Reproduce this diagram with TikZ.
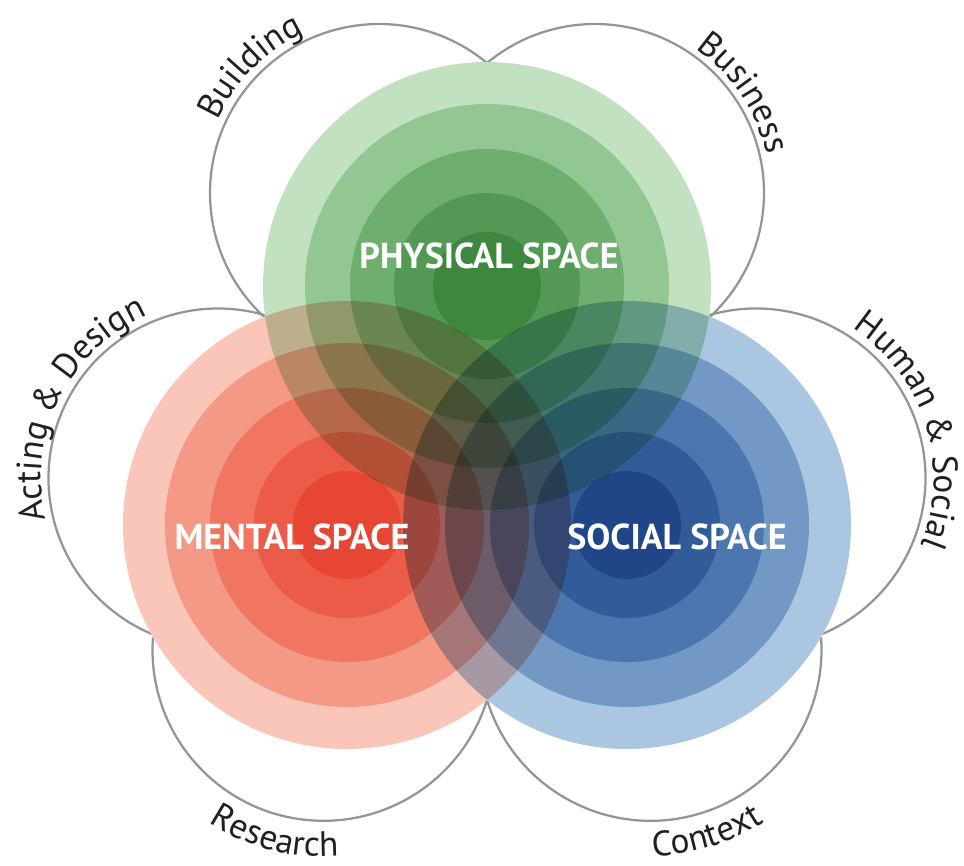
\documentclass[tikz,border=0pt]{standalone}
\usepackage{fontspec}
\setmainfont{PT Sans}
\usetikzlibrary{decorations.text}
\definecolor{gbase}{HTML}{C1E1C1}
\definecolor{rbase}{HTML}{FAC6BA}
\definecolor{bbase}{HTML}{ABC6E1}
\definecolor{outl}{HTML}{939598}
\definecolor{lbl}{HTML}{231F20}
\newcommand\lblfont{\fontsize{26.5}{30}\selectfont}
\newcommand\ttlfont{\fontsize{27}{32}\selectfont\bfseries}
\tikzset{
  petal/.style={draw=outl, line width=1.7pt},
  ttl/.style={text=white, font=\ttlfont, inner sep=0pt},
  curvedlabel/.style={decorate, decoration={text along path, text align=center, text color=lbl, text={|\lblfont|#1}}}
}
\begin{document}
\begin{tikzpicture}[x=0.75pt, y=-0.75pt]
\useasboundingbox (0,0) rectangle (964,865);
% centres of the three spaces
\coordinate (G) at (487,286);
\coordinate (R) at (347,525);
\coordinate (B) at (627,525);
% centres of the petal outlines
\coordinate (pBuild) at (379,193);
\coordinate (pBus) at (595,193);
\coordinate (pAct) at (218,478);
\coordinate (pHum) at (756,478);
\coordinate (pRes) at (323.5,649.8);
\coordinate (pCon) at (650.5,649.8);
% petal outlines
\draw[petal] ([shift={(309.5:169)}]pBuild) arc[start angle=309.5, end angle=132.6, radius=169];
\draw[petal] ([shift={(230.5:169)}]pBus) arc[start angle=230.5, end angle=407.4, radius=169];
\draw[petal] ([shift={(286.3:169.5)}]pAct) arc[start angle=286.3, end angle=112.2, radius=169.5];
\draw[petal] ([shift={(253.7:169.5)}]pHum) arc[start angle=253.7, end angle=427.8, radius=169.5];
\draw[petal] ([shift={(184.3:171)}]pRes) arc[start angle=184.3, end angle=17.1, radius=171];
\draw[petal] ([shift={(162.9:171)}]pCon) arc[start angle=162.9, end angle=-4.3, radius=171];
% white underlay
\fill[white] (G) circle[radius=224];
\fill[white] (R) circle[radius=224];
\fill[white] (B) circle[radius=224];
% concentric discs, multiplied
\begin{scope}[blend group=multiply]
\foreach \c/\col in {G/gbase, R/rbase, B/bbase}{
  \foreach \r in {224,182,137,93,54}{
    \fill[\col] (\c) circle[radius=\r];
  }
}
\end{scope}
% titles
\node[ttl] (phys) at (489,256) {PHYSICAL SPACE};
\node[ttl] (ment) at (292,537) {MENTAL SPACE};
\node[ttl] (soc) at (677,537) {SOCIAL SPACE};
% curved labels
\path[curvedlabel={Building}] ([shift={(164.6:177)}]pBuild) arc[start angle=164.6, end angle=284.6, radius=177];
\path[curvedlabel={Business}] ([shift={(266:176)}]pBus) arc[start angle=266, end angle=386, radius=176];
\path[curvedlabel={Acting {\&} Design}] ([shift={(146.5:177)}]pAct) arc[start angle=146.5, end angle=266.5, radius=177];
\path[curvedlabel={Human {\&} Social}] ([shift={(282.5:178)}]pHum) arc[start angle=282.5, end angle=402.5, radius=178];
\path[curvedlabel={Research}] ([shift={(154.7:207)}]pRes) arc[start angle=154.7, end angle=54.7, radius=207];
\path[curvedlabel={Context}] ([shift={(123:206)}]pCon) arc[start angle=123, end angle=23, radius=206];
\end{tikzpicture}
\end{document}
